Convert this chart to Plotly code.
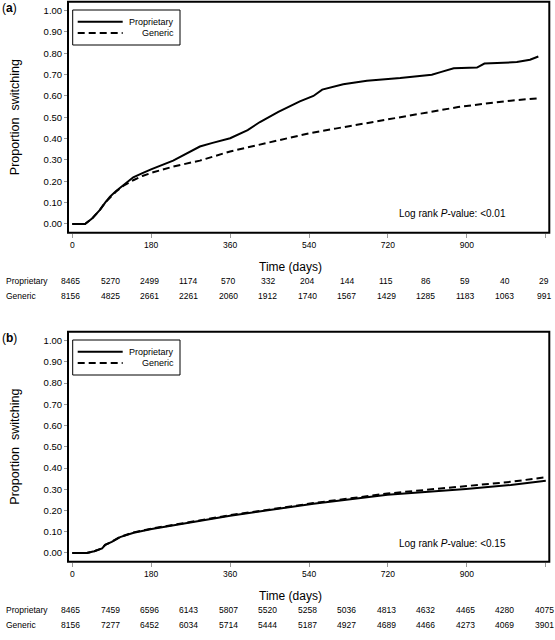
import plotly.graph_objects as go

# ---------------- data ----------------
# Panel (a)
a_prop_days = [0, 29, 45, 63, 75, 86, 100, 116, 139, 160, 181, 230, 260, 291, 320, 360, 400, 428, 470, 519,
               550, 560, 570, 618, 672, 748, 820, 840, 870, 923, 940, 1014, 1044, 1063]
a_prop_vals = [0, 0, 0.025, 0.066, 0.10, 0.128, 0.155, 0.183, 0.219, 0.238, 0.257, 0.297, 0.33, 0.363, 0.38,
               0.402, 0.44, 0.478, 0.525, 0.575, 0.60, 0.615, 0.63, 0.655, 0.671, 0.684, 0.70, 0.712, 0.73,
               0.733, 0.752, 0.759, 0.77, 0.785]
a_gen_days = [0, 29, 45, 63, 75, 86, 100, 116, 139, 160, 181, 230, 291, 360, 430, 474, 519, 540, 600, 650,
              710, 760, 823, 880, 937, 1000, 1067]
a_gen_vals = [0, 0, 0.025, 0.066, 0.10, 0.125, 0.152, 0.178, 0.205, 0.225, 0.24, 0.269, 0.297, 0.34, 0.372,
              0.395, 0.415, 0.425, 0.447, 0.465, 0.49, 0.505, 0.53, 0.548, 0.563, 0.578, 0.59]

# Panel (b)
b_prop_days = [0, 33, 50, 63, 68, 75, 90, 109, 140, 181, 268, 360, 474, 550, 719, 898, 1000, 1080]
b_prop_vals = [0, 0, 0.008, 0.018, 0.022, 0.038, 0.052, 0.075, 0.095, 0.113, 0.144, 0.175, 0.21, 0.232,
               0.274, 0.301, 0.32, 0.34]
b_gen_days = [0, 33, 50, 63, 68, 75, 90, 109, 140, 181, 268, 360, 474, 550, 719, 898, 1000, 1080]
b_gen_vals = [0, 0, 0.008, 0.018, 0.022, 0.038, 0.053, 0.076, 0.097, 0.115, 0.147, 0.178, 0.212, 0.235,
              0.28, 0.317, 0.335, 0.357]

# Numbers at risk (every 90 days)
risk_days = [0, 90, 180, 270, 360, 450, 540, 630, 720, 810, 900, 990, 1080]
a_risk_prop = [8465, 5270, 2499, 1174, 570, 332, 204, 144, 115, 86, 59, 40, 29]
a_risk_gen = [8156, 4825, 2661, 2261, 2060, 1912, 1740, 1567, 1429, 1285, 1183, 1063, 991]
b_risk_prop = [8465, 7459, 6596, 6143, 5807, 5520, 5258, 5036, 4813, 4632, 4465, 4280, 4075]
b_risk_gen = [8156, 7277, 6452, 6034, 5714, 5444, 5187, 4927, 4689, 4466, 4273, 4069, 3901]

x_ticks = [0, 180, 360, 540, 720, 900, 1080]
y_ticks = [0, 0.1, 0.2, 0.3, 0.4, 0.5, 0.6, 0.7, 0.8, 0.9, 1.0]
y_tick_text = ["0.00", "0.10", "0.20", "0.30", "0.40", "0.50", "0.60", "0.70", "0.80", "0.90", "1.00"]
series_names = ["Proprietary", "Generic"]
panel_labels = ["(<b>a</b>)", "(<b>b</b>)"]
pvalues = ["Log rank <i>P</i>-value: <0.01", "Log rank <i>P</i>-value: <0.15"]

# ---------------- figure ----------------
W, H = 555, 640
FONT = "Liberation Sans, Arial, sans-serif"
DASH = "7px,4px"

fig = go.Figure()
panels = [
    dict(xa="x", ya="y", top=1.7, bot=232.7,
         prop=(a_prop_days, a_prop_vals), gen=(a_gen_days, a_gen_vals),
         risk=(a_risk_prop, a_risk_gen)),
    dict(xa="x2", ya="y2", top=331.7, bot=561.7,
         prop=(b_prop_days, b_prop_vals), gen=(b_gen_days, b_gen_vals),
         risk=(b_risk_prop, b_risk_gen)),
]

left_px, right_px = 68, 549.3

def py(px):
    return 1 - px / H

annotations = []
shapes = []
for i, p in enumerate(panels):
    fig.add_trace(go.Scatter(x=p["prop"][0], y=p["prop"][1], mode="lines",
                             line=dict(color="black", width=2), name=series_names[0],
                             xaxis=p["xa"], yaxis=p["ya"], showlegend=False))
    fig.add_trace(go.Scatter(x=p["gen"][0], y=p["gen"][1], mode="lines",
                             line=dict(color="black", width=2, dash=DASH), name=series_names[1],
                             xaxis=p["xa"], yaxis=p["ya"], showlegend=False))
    axkey = "xaxis" if i == 0 else "xaxis2"
    aykey = "yaxis" if i == 0 else "yaxis2"
    fig.update_layout(**{
        axkey: dict(domain=[left_px / W, right_px / W], range=[-9.8, 1088], anchor=p["ya"],
                    tickvals=x_ticks, ticktext=[str(t) for t in x_ticks], ticks="outside",
                    ticklen=4, tickcolor="#999", tickwidth=1, showline=False, showgrid=False,
                    zeroline=False, automargin=False,
                    tickfont=dict(size=8.5, color="black", family=FONT)),
        aykey: dict(domain=[py(p["bot"]), py(p["top"])], range=[-0.041, 1.042], anchor=p["xa"],
                    tickvals=y_ticks, ticktext=y_tick_text, ticks="outside", ticklen=3,
                    tickcolor="#999", tickwidth=1, showline=False, showgrid=False, zeroline=False,
                    automargin=False,
                    tickfont=dict(size=9.5, color="black", family=FONT)),
    })
    xd = p["xa"] + " domain"
    yd = p["ya"] + " domain"
    # frame
    shapes.append(dict(type="rect", xref=xd, yref=yd, x0=0, x1=1, y0=0, y1=1,
                       line=dict(color="black", width=2)))
    # legend box
    hpx = p["bot"] - p["top"]
    def ydom(px, p=p, hpx=hpx):
        return (p["bot"] - (p["top"] + px)) / hpx
    wpx = right_px - left_px
    def xdom(px):
        return (px - left_px) / wpx
    shapes.append(dict(type="rect", xref=xd, yref=yd, x0=xdom(72.7), x1=xdom(180),
                       y0=ydom(43.3), y1=ydom(8.3), line=dict(color="black", width=1),
                       fillcolor="white", layer="above"))
    for k, (ly, dash) in enumerate([(20.0, "solid"), (31.3, DASH)]):
        shapes.append(dict(type="line", xref=xd, yref=yd, x0=xdom(77.7), x1=xdom(122.7),
                           y0=ydom(ly), y1=ydom(ly), line=dict(color="black", width=2, dash=dash),
                           layer="above"))
        annotations.append(dict(text=series_names[k], xref=xd, yref=yd, x=xdom(176), y=ydom(ly),
                                xanchor="right", yanchor="middle", showarrow=False,
                                font=dict(size=9, family=FONT, color="black")))
    # p-value
    annotations.append(dict(text=pvalues[i], xref=p["xa"], yref=p["ya"], x=994, y=0.047,
                            xanchor="right", yanchor="middle", showarrow=False,
                            font=dict(size=10, family=FONT, color="black")))
    # panel label
    annotations.append(dict(text=panel_labels[i], xref="paper", yref="paper", x=0, y=py(p["top"] + 6.5),
                            xanchor="left", yanchor="middle", showarrow=False,
                            font=dict(size=12, family=FONT, color="black")))
    # y title
    annotations.append(dict(text="Proportion\u00a0\u00a0switching", xref="paper", yref="paper",
                            x=15 / W, y=py((p["top"] + p["bot"]) / 2), textangle=-90,
                            xanchor="center", yanchor="middle", showarrow=False,
                            font=dict(size=12.5, family=FONT, color="black")))
    # x title
    annotations.append(dict(text="Time (days)", xref="paper", yref="paper", x=290 / W,
                            y=py(p["bot"] + 34.5), xanchor="center", yanchor="middle",
                            showarrow=False, font=dict(size=12, family=FONT, color="black")))
    # risk table
    for r, (name, vals) in enumerate(zip(series_names, p["risk"])):
        rowpx = p["bot"] + 48.5 + 15 * r
        annotations.append(dict(text=name, xref="paper", yref="paper", x=4 / W, y=py(rowpx),
                                xanchor="left", yanchor="middle", showarrow=False,
                                font=dict(size=8.5, family=FONT, color="black")))
        for d, v in zip(risk_days, vals):
            annotations.append(dict(text=str(v), xref=p["xa"], yref="paper", x=d - 4, y=py(rowpx),
                                    xanchor="center", yanchor="middle", showarrow=False,
                                    font=dict(size=8.5, family=FONT, color="black")))

fig.update_layout(width=W, height=H, margin=dict(l=0, r=0, t=0, b=0, autoexpand=False),
                  paper_bgcolor="white", plot_bgcolor="white", showlegend=False,
                  annotations=annotations, shapes=shapes, hovermode=False,
                  font=dict(family=FONT, color="black"))

fig.write_html("out.html", config={"displayModeBar": False, "staticPlot": True},
               post_script="document.body.style.margin='0';document.body.style.padding='0';"
                           "document.body.style.overflow='hidden';")
